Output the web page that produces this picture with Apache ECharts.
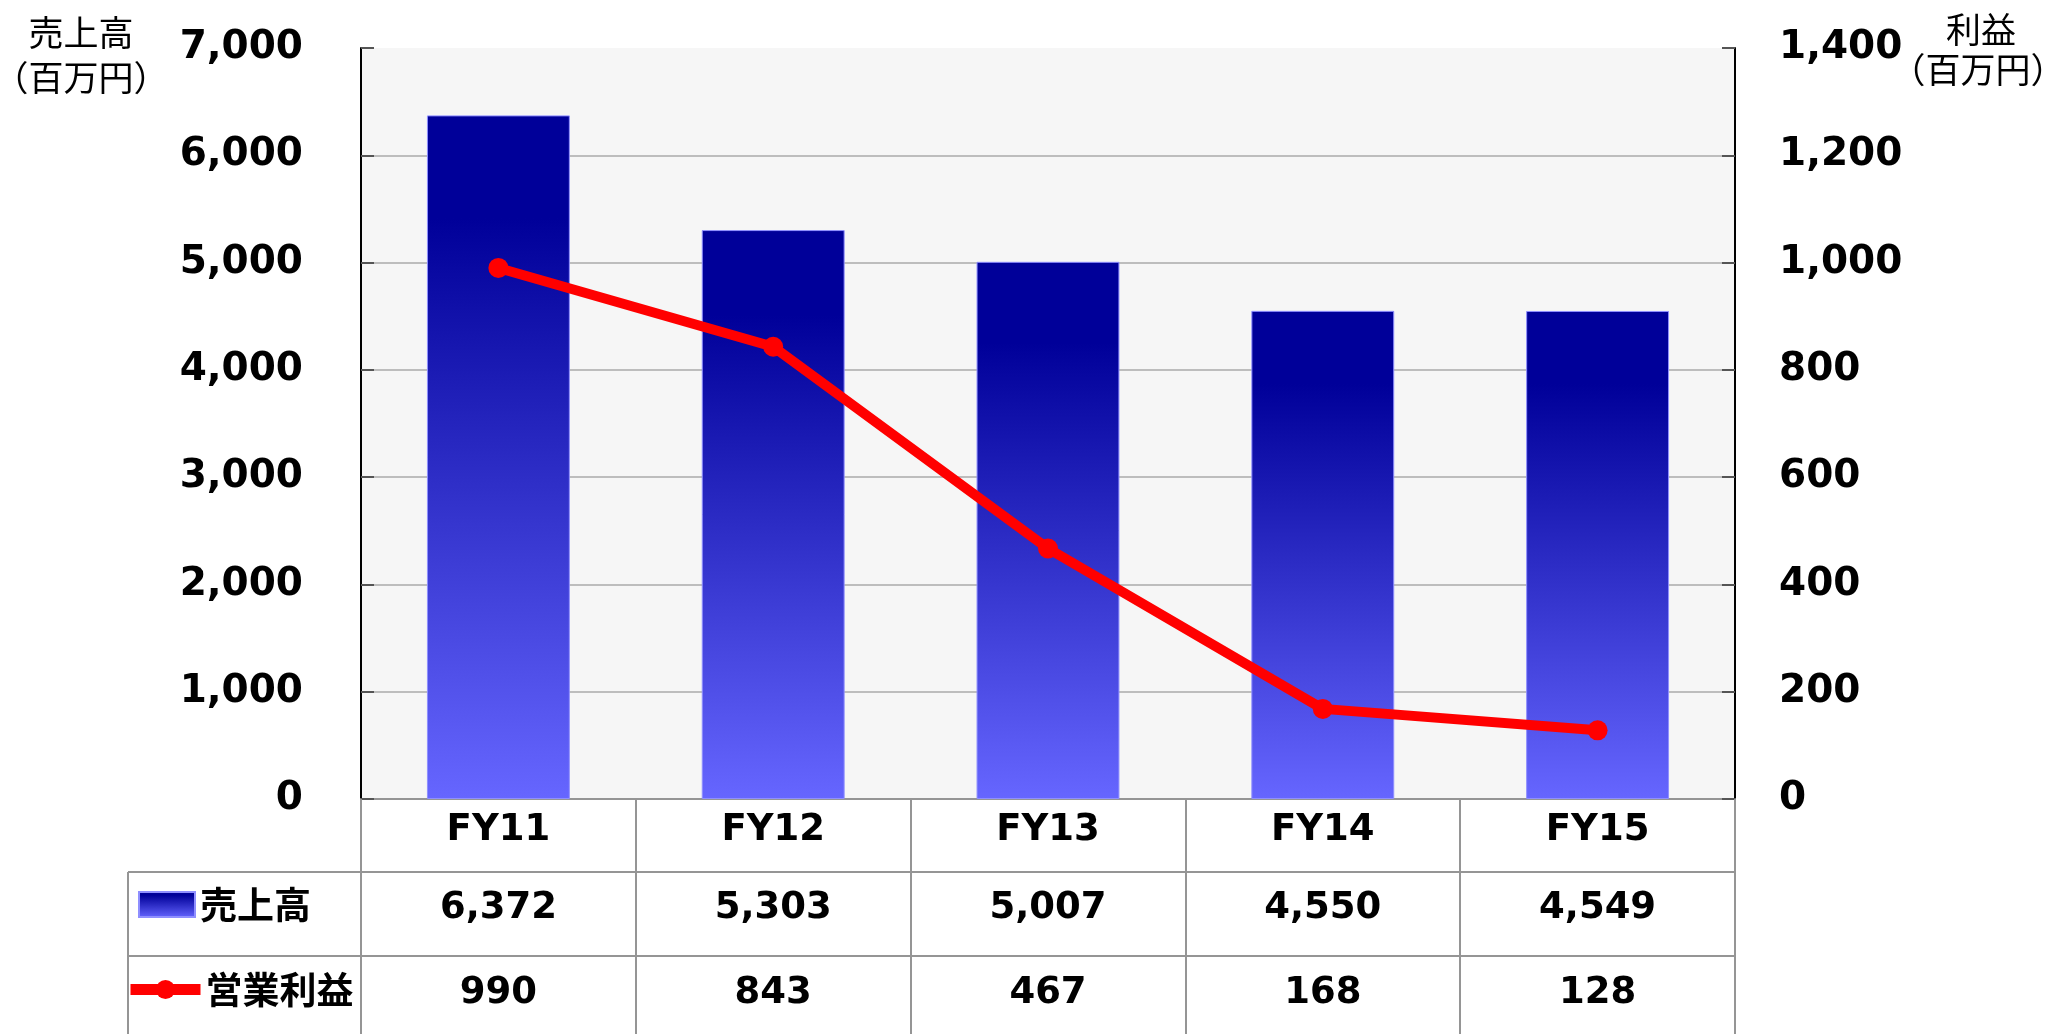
<!DOCTYPE html>
<html><head><meta charset="utf-8">
<script src="https://cdn.jsdelivr.net/npm/echarts@6/dist/echarts.min.js"></script>
<style>html,body{margin:0;padding:0;background:#fff}#c{width:2051px;height:1034px}</style>
</head><body><div id="c"></div>
<script>
// ---- data ----
const categories = ['FY11', 'FY12', 'FY13', 'FY14', 'FY15'];
const salesValues = [6372, 5303, 5007, 4550, 4549];
const profitValues = [990, 843, 467, 168, 128];
const salesName = '売上高';
const profitName = '営業利益';
const leftAxisRange = [0, 7000, 1000];
const rightAxisRange = [0, 1400, 200];
const leftTitleLines = ['売上高', '（百万円）'];
const rightTitleLines = ['利益', '（百万円）'];

// ---- layout / style ----
const W = 2051, H = 1034;
const GRID = {left: 361, right: 316, top: 48, bottom: 235};
const numFont = 'DejaVu Sans';
const cjkFont = 'Noto Sans CJK JP';
const tableColor = '#959595';
const fmt = v => v.toLocaleString('en-US');

const chart = echarts.init(document.getElementById('c'), null, {renderer: 'canvas'});

const barGradient = {
  type: 'linear', x: 0, y: 0, x2: 0, y2: 1,
  colorStops: [
    {offset: 0, color: '#000099'},
    {offset: 0.15, color: '#000099'},
    {offset: 1, color: '#6666ff'}
  ]
};

const gridRight = W - GRID.right;
const tableRow1Bottom = 872;
const tableRow2Bottom = 956;
const tableLeft = 128;

const legendText = {fontSize: 37, fontWeight: 'bold', fontFamily: cjkFont, color: '#000'};
const titleStyle = {fontSize: 35, fontFamily: cjkFont, fill: '#000', align: 'center', verticalAlign: 'middle'};

const option = {
  animation: false,
  backgroundColor: '#ffffff',
  grid: {
    left: GRID.left, right: GRID.right, top: GRID.top, bottom: GRID.bottom,
    show: true, backgroundColor: '#f6f6f6', borderWidth: 0
  },
  legend: [
    {
      data: [{name: salesName, icon: 'rect'}],
      left: 138, top: 886, padding: 0,
      itemWidth: 56, itemHeight: 25,
      selectedMode: false,
      textStyle: legendText
    },
    {
      data: [{name: profitName}],
      left: 125, top: 971, padding: 0,
      itemWidth: 70, itemHeight: 24,
      lineStyle: {width: 11},
      selectedMode: false,
      textStyle: legendText
    }
  ],
  xAxis: {
    type: 'category',
    data: categories,
    boundaryGap: true,
    axisLine: {show: true, lineStyle: {color: tableColor, width: 2}},
    axisTick: {show: true, length: 240, lineStyle: {color: tableColor, width: 2}},
    splitLine: {show: false},
    axisLabel: {
      interval: 0,
      margin: -5,
      color: '#000',
      formatter: (v, i) => `{c|${v}}\n{v|${fmt(salesValues[i])}}\n{v|${fmt(profitValues[i])}}`,
      rich: {
        c: {lineHeight: 72, fontSize: 37, fontWeight: 'bold', fontFamily: numFont, color: '#000'},
        v: {lineHeight: 85, fontSize: 37, fontWeight: 'bold', fontFamily: numFont, color: '#000'}
      }
    }
  },
  yAxis: [
    {
      type: 'value',
      min: leftAxisRange[0], max: leftAxisRange[1], interval: leftAxisRange[2],
      axisLine: {show: true, lineStyle: {color: '#000', width: 2}},
      axisTick: {show: true, inside: true, length: 13, lineStyle: {color: '#555', width: 2}},
      splitLine: {show: true, showMaxLine: false, lineStyle: {color: '#bdbdbd', width: 2}},
      axisLabel: {
        margin: 58, color: '#000', fontSize: 39, fontWeight: 'bold', fontFamily: numFont,
        padding: [0, 0, 14, 0],
        formatter: v => fmt(v)
      }
    },
    {
      type: 'value',
      position: 'right',
      min: rightAxisRange[0], max: rightAxisRange[1], interval: rightAxisRange[2],
      axisLine: {show: true, lineStyle: {color: '#000', width: 2}},
      axisTick: {show: true, inside: true, length: 13, lineStyle: {color: '#555', width: 2}},
      splitLine: {show: false},
      axisLabel: {
        margin: 44, color: '#000', fontSize: 39, fontWeight: 'bold', fontFamily: numFont,
        padding: [0, 0, 14, 0],
        formatter: v => fmt(v)
      }
    }
  ],
  series: [
    {
      name: salesName,
      type: 'bar',
      yAxisIndex: 0,
      data: salesValues,
      barWidth: '52%',
      itemStyle: {color: barGradient, borderColor: '#8f8fff', borderWidth: 1}
    },
    {
      name: profitName,
      type: 'line',
      yAxisIndex: 1,
      data: profitValues,
      symbol: 'circle',
      symbolSize: 20,
      z: 5,
      itemStyle: {color: '#ff0000'},
      lineStyle: {color: '#ff0000', width: 10}
    }
  ],
  graphic: [
    {type: 'line', shape: {x1: tableLeft, y1: tableRow1Bottom, x2: gridRight, y2: tableRow1Bottom}, style: {stroke: tableColor, lineWidth: 2}},
    {type: 'line', shape: {x1: tableLeft, y1: tableRow2Bottom, x2: gridRight, y2: tableRow2Bottom}, style: {stroke: tableColor, lineWidth: 2}},
    {type: 'line', shape: {x1: tableLeft, y1: tableRow1Bottom, x2: tableLeft, y2: H + 10}, style: {stroke: tableColor, lineWidth: 2}},
    {type: 'text', x: 81, y: 33, style: Object.assign({text: leftTitleLines[0]}, titleStyle)},
    {type: 'text', x: 81, y: 78, style: Object.assign({text: leftTitleLines[1]}, titleStyle)},
    {type: 'text', x: 1981, y: 30, style: Object.assign({text: rightTitleLines[0]}, titleStyle)},
    {type: 'text', x: 1978, y: 70, style: Object.assign({text: rightTitleLines[1]}, titleStyle)}
  ]
};
chart.setOption(option);
</script>
</body></html>
